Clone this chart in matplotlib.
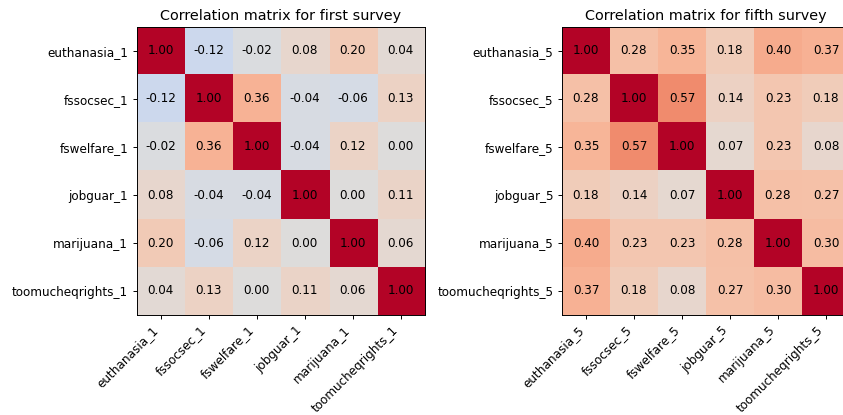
import numpy as np
import matplotlib
matplotlib.use("Agg")
import matplotlib.pyplot as plt

# 变量名
vars_1 = ["euthanasia_1", "fssocsec_1", "fswelfare_1", "jobguar_1", "marijuana_1", "toomucheqrights_1"]
vars_5 = ["euthanasia_5", "fssocsec_5", "fswelfare_5", "jobguar_5", "marijuana_5", "toomucheqrights_5"]

# 相关系数矩阵
corr_1 = np.array([
    [1.00, -0.12, -0.02, 0.08, 0.20, 0.04],
    [-0.12, 1.00, 0.36, -0.04, -0.06, 0.13],
    [-0.02, 0.36, 1.00, -0.04, 0.12, 0.00],
    [0.08, -0.04, -0.04, 1.00, 0.00, 0.11],
    [0.20, -0.06, 0.12, 0.00, 1.00, 0.06],
    [0.04, 0.13, 0.00, 0.11, 0.06, 1.00],
])
corr_5 = np.array([
    [1.00, 0.28, 0.35, 0.18, 0.40, 0.37],
    [0.28, 1.00, 0.57, 0.14, 0.23, 0.18],
    [0.35, 0.57, 1.00, 0.07, 0.23, 0.08],
    [0.18, 0.14, 0.07, 1.00, 0.28, 0.27],
    [0.40, 0.23, 0.23, 0.28, 1.00, 0.30],
    [0.37, 0.18, 0.08, 0.27, 0.30, 1.00],
])

titles = ["Correlation matrix for first survey", "Correlation matrix for fifth survey"]

# 原图是缩小过的，用较低dpi模拟
dpi = 86.3
fig = plt.figure(figsize=(843 / dpi, 415 / dpi), dpi=dpi)
ax1 = fig.add_axes([136 / 843, 100 / 415, 289 / 843, 288 / 415])
ax2 = fig.add_axes([561.5 / 843, 100 / 415, 289 / 843, 288 / 415])

for ax, corr, names, title in zip([ax1, ax2], [corr_1, corr_5], [vars_1, vars_5], titles):
    ax.imshow(corr, cmap="coolwarm", vmin=-1, vmax=1)
    n = len(names)
    ax.set_xticks(np.arange(n))
    ax.set_yticks(np.arange(n))
    ax.set_xticklabels(names, rotation=45, ha="right")
    ax.set_yticklabels(names)
    for i in range(n):
        for j in range(n):
            ax.text(j, i, f"{corr[i, j]:.2f}", ha="center", va="center", color="black", fontsize=10)
    ax.set_title(title)

fig.savefig("out.png", dpi=dpi)
